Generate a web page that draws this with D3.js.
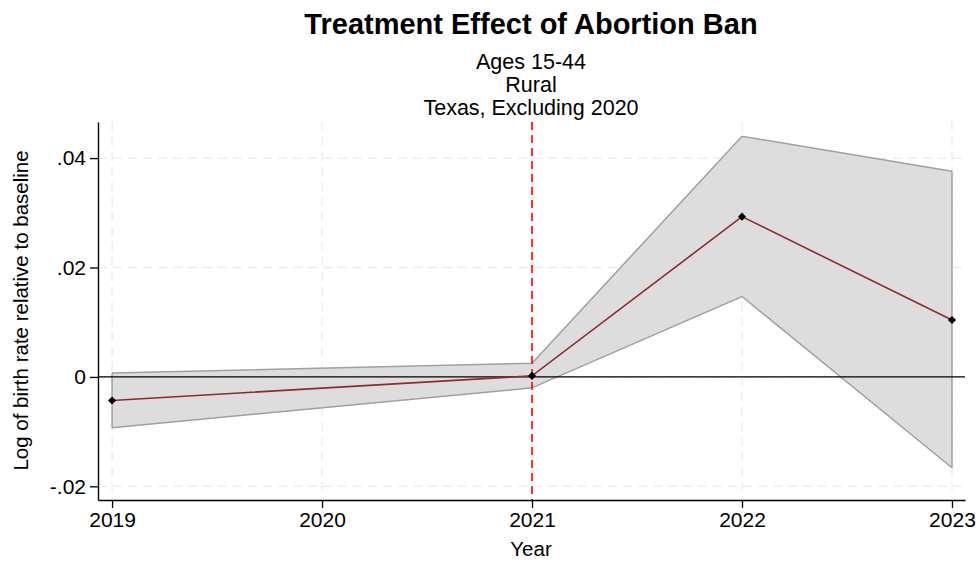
<!DOCTYPE html>
<html>
<head>
<meta charset="utf-8">
<script src="https://cdn.jsdelivr.net/npm/d3@7"></script>
<style>
  body { margin: 0; background: #fff; }
  text { font-family: "Liberation Sans", Arial, sans-serif; }
</style>
</head>
<body>
<div id="myPlot"></div>
<script>
// Data
const years = [2019, 2021, 2022, 2023];
const estimate = [-0.0043, 0.0002, 0.0293, 0.0104];
const ciLower = [-0.0093, -0.0020, 0.0147, -0.0166];
const ciUpper = [0.0007, 0.0025, 0.0440, 0.0376];
const xTicks = [2019, 2020, 2021, 2022, 2023];
const yTicks = [-0.02, 0, 0.02, 0.04];
const yTickLabels = ["-.02", "0", ".02", ".04"];
const treatYear = 2021;

const W = 980, H = 563;
const plotLeft = 98, plotRight = 965, plotTop = 122, plotBottom = 500;

const svg = d3.select("#myPlot")
  .append("svg")
  .attr("width", W)
  .attr("height", H);

const x = d3.scaleLinear().domain([2018.933, 2023.062]).range([plotLeft, plotRight]);
const y = d3.scaleLinear().domain([-0.0225, 0.0466]).range([plotBottom, plotTop]);

// grid
svg.append("g")
  .selectAll("line")
  .data(yTicks)
  .join("line")
  .attr("x1", plotLeft).attr("x2", plotRight)
  .attr("y1", d => y(d)).attr("y2", d => y(d))
  .attr("stroke", "#ebebeb")
  .attr("stroke-width", 1.3)
  .attr("stroke-dasharray", "9,6");

svg.append("g")
  .selectAll("line")
  .data(xTicks)
  .join("line")
  .attr("x1", d => x(d)).attr("x2", d => x(d))
  .attr("y1", plotTop).attr("y2", plotBottom)
  .attr("stroke", "#ebebeb")
  .attr("stroke-width", 1.3)
  .attr("stroke-dasharray", "9,6");

// confidence band
const rows = years.map((d, i) => ({ yr: d, est: estimate[i], lo: ciLower[i], hi: ciUpper[i] }));

svg.append("path")
  .datum(rows)
  .attr("d", d3.area().x(d => x(d.yr)).y0(d => y(d.lo)).y1(d => y(d.hi)))
  .attr("fill", "#dddddd")
  .attr("stroke", "none");

svg.append("path")
  .datum(rows)
  .attr("d", d3.line().x(d => x(d.yr)).y(d => y(d.hi)))
  .attr("fill", "none")
  .attr("stroke", "#a0a0a0")
  .attr("stroke-width", 1.5);

svg.append("path")
  .datum(rows)
  .attr("d", d3.line().x(d => x(d.yr)).y(d => y(d.lo)))
  .attr("fill", "none")
  .attr("stroke", "#a0a0a0")
  .attr("stroke-width", 1.5);

// edges of band at ends
svg.append("g")
  .selectAll("line")
  .data([rows[0], rows[rows.length - 1]])
  .join("line")
  .attr("x1", d => x(d.yr)).attr("x2", d => x(d.yr))
  .attr("y1", d => y(d.lo)).attr("y2", d => y(d.hi))
  .attr("stroke", "#a0a0a0")
  .attr("stroke-width", 1.5);

// zero line
svg.append("line")
  .attr("x1", plotLeft).attr("x2", plotRight)
  .attr("y1", y(0)).attr("y2", y(0))
  .attr("stroke", "#000")
  .attr("stroke-width", 1.4);

// treatment line
svg.append("line")
  .attr("x1", x(treatYear)).attr("x2", x(treatYear))
  .attr("y1", plotTop).attr("y2", plotBottom)
  .attr("stroke", "#ff0000")
  .attr("stroke-width", 1.6)
  .attr("stroke-dasharray", "8,5");

// estimate line
svg.append("path")
  .datum(rows)
  .attr("d", d3.line().x(d => x(d.yr)).y(d => y(d.est)))
  .attr("fill", "none")
  .attr("stroke", "#8f2a2e")
  .attr("stroke-width", 1.6);

svg.append("g")
  .selectAll("path")
  .data(rows)
  .join("path")
  .attr("d", d3.symbol(d3.symbolDiamond2, 42))
  .attr("transform", d => `translate(${x(d.yr)},${y(d.est)})`)
  .attr("fill", "#000");

// axes
const xAxis = svg.append("g")
  .attr("transform", `translate(0,${plotBottom})`)
  .call(d3.axisBottom(x).tickValues(xTicks).tickFormat(d3.format("d")).tickSize(8).tickPadding(4).tickSizeOuter(0));
xAxis.select(".domain").attr("stroke-width", 1.4);
xAxis.selectAll(".tick line").attr("stroke-width", 1.3);
xAxis.selectAll("text").style("font-size", "21px").attr("fill", "#000")
  .style("font-family", "'Liberation Sans', Arial, sans-serif");

const yAxis = svg.append("g")
  .attr("transform", `translate(${plotLeft},0)`)
  .call(d3.axisLeft(y).tickValues(yTicks)
    .tickFormat((d, i) => yTickLabels[i])
    .tickSize(8).tickPadding(4).tickSizeOuter(0));
yAxis.select(".domain").attr("stroke-width", 1.4);
yAxis.selectAll(".tick line").attr("stroke-width", 1.3);
yAxis.selectAll("text").style("font-size", "21px").attr("fill", "#000")
  .style("font-family", "'Liberation Sans', Arial, sans-serif");

// labels
svg.append("text")
  .attr("x", 531)
  .attr("y", 556)
  .style("font-size", "20.5px")
  .style("text-anchor", "middle")
  .text("Year");

svg.append("text")
  .attr("transform", "rotate(-90)")
  .attr("x", -310.5)
  .attr("y", 28)
  .style("font-size", "20.5px")
  .style("text-anchor", "middle")
  .text("Log of birth rate relative to baseline");

svg.append("text")
  .attr("x", 531)
  .attr("y", 34)
  .style("font-size", "29px")
  .style("font-weight", "bold")
  .style("text-anchor", "middle")
  .text("Treatment Effect of Abortion Ban");

const subtitles = ["Ages 15-44", "Rural", "Texas, Excluding 2020"];
svg.append("g")
  .selectAll("text")
  .data(subtitles)
  .join("text")
  .attr("x", 531)
  .attr("y", (d, i) => 68.5 + i * 23)
  .style("font-size", "21.5px")
  .style("text-anchor", "middle")
  .text(d => d);
</script>
</body>
</html>
